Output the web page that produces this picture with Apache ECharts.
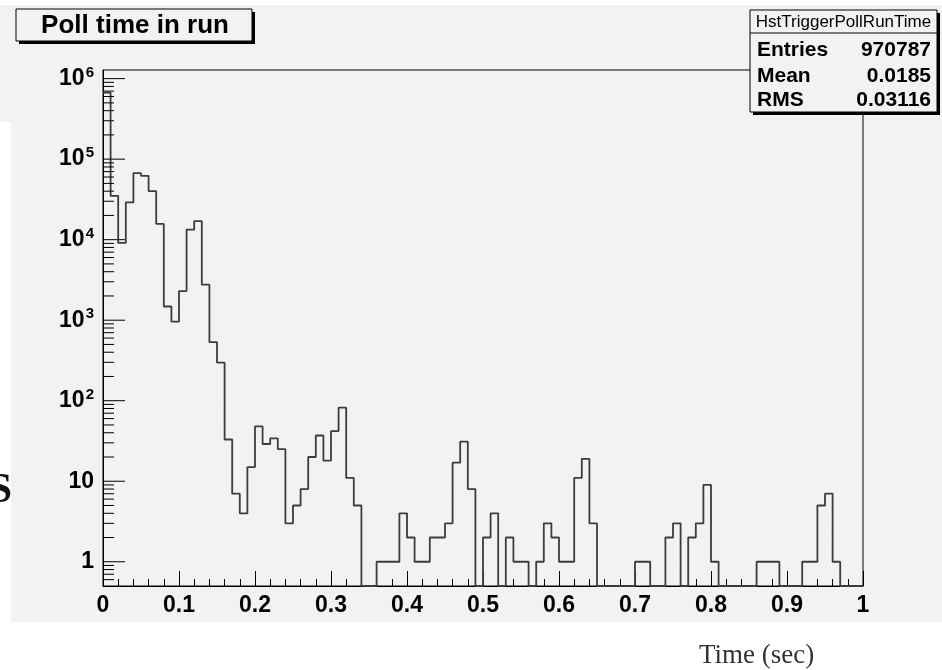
<!DOCTYPE html>
<html>
<head>
<meta charset="utf-8">
<script src="https://cdn.jsdelivr.net/npm/echarts@6/dist/echarts.min.js"></script>
<style>
html, body { margin: 0; padding: 0; background: #fff; }
#main { width: 942px; height: 670px; }
</style>
</head>
<body>
<div id="main"></div>
<script>
// histogram: 100 bins of 0.01 sec from 0 to 1
var binWidth = 0.01;
var binCounts = [
  672000, 35000, 9100, 29000, 67000, 62000, 40000, 15700, 1480, 960,
  2300, 13300, 17000, 2760, 535, 297, 33, 7, 4, 15,
  48, 29, 34, 25, 3, 5, 8, 20, 37, 18,
  42, 82, 11, 5, 0, 0, 1, 1, 1, 4,
  2, 1, 1, 2, 2, 3, 17, 31, 8, 0,
  2, 4, 0, 2, 1, 1, 0, 1, 3, 2,
  1, 1, 11, 19, 3, 0, 0, 0, 0, 0,
  1, 1, 0, 0, 2, 3, 0, 2, 3, 9,
  1, 0, 0, 0, 0, 0, 1, 1, 1, 0,
  0, 0, 1, 1, 5, 7, 1, 0, 0, 0
];
var xMin = 0, xMax = 1;
var yMin = 0.5, yMax = 1.28e6;
var titleText = 'Poll time in run';
var histName = 'HstTriggerPollRunTime';
var statNames = ['Entries', 'Mean', 'RMS'];
var statValues = ['970787', '0.0185', '0.03116'];
var xTitle = 'Time (sec)';

// step outline: left edge of each bin, empty bins sit on the axis floor
var steps = [];
for (var i = 0; i < binCounts.length; i++) {
  steps.push([+(i * binWidth).toFixed(2), binCounts[i] > 0 ? binCounts[i] : yMin]);
}
steps.push([xMax, steps[steps.length - 1][1]]);

// ROOT style log ticks: long at decades, short at 2..9
var yTicks = [];
for (var e = -1; e <= 6; e++) {
  for (var m = 1; m <= 9; m++) {
    var v = m * Math.pow(10, e);
    if (v <= yMin || v >= yMax) continue;
    yTicks.push([xMin, v, m === 1 ? 22 : 11]);
  }
}

var font = 'Liberation Sans, Arial, Helvetica, sans-serif';
var serif = 'Liberation Serif, Times New Roman, serif';
var grey = '#f2f2f2';

var statRows = [];
for (var k = 0; k < statNames.length; k++) {
  var yy = [50, 76, 100][k];
  statRows.push({ type: 'text', x: 757, y: yy, z: 52,
    style: { text: statNames[k], fill: '#000', font: 'bold 21px ' + font, textVerticalAlign: 'middle' } });
  statRows.push({ type: 'text', x: 931, y: yy, z: 52,
    style: { text: statValues[k], fill: '#000', font: 'bold 21px ' + font, textAlign: 'right', textVerticalAlign: 'middle' } });
}

var chart = echarts.init(document.getElementById('main'));
chart.setOption({
  backgroundColor: '#fff',
  animation: false,
  grid: {
    left: 103, right: 79, top: 70, bottom: 84,
    show: true, backgroundColor: grey, borderColor: '#000', borderWidth: 1
  },
  xAxis: {
    type: 'value', min: xMin, max: xMax, interval: 0.1,
    axisLine: { lineStyle: { color: '#000', width: 1 } },
    axisTick: { inside: true, length: 15, lineStyle: { color: '#000' } },
    minorTick: { show: true, splitNumber: 5, length: 7, lineStyle: { color: '#000' } },
    splitLine: { show: false },
    axisLabel: {
      margin: 8, color: '#000', fontFamily: font, fontWeight: 'bold', fontSize: 23,
      formatter: function (v) {
        if (v === 0) return '0';
        if (v === 1) return '1';
        return v.toFixed(1);
      }
    }
  },
  yAxis: {
    type: 'log', logBase: 10, min: yMin, max: yMax,
    axisLine: { lineStyle: { color: '#000', width: 1 } },
    axisTick: { show: false },
    splitLine: { show: false },
    axisLabel: {
      margin: 9, color: '#000', fontFamily: font, fontWeight: 'bold', fontSize: 23,
      showMinLabel: false, showMaxLabel: false,
      formatter: function (v) {
        var lg = Math.log10(v);
        var e = Math.round(lg);
        if (Math.abs(lg - e) > 1e-6) return '';
        if (e === 0) return '1';
        if (e === 1) return '10';
        return '10{sup|' + e + '}';
      },
      rich: {
        sup: { fontFamily: font, fontWeight: 'bold', fontSize: 15, verticalAlign: 'top', padding: [0, 0, 12, 1] }
      }
    }
  },
  series: [
    {
      type: 'line',
      step: 'end',
      data: steps,
      showSymbol: false,
      symbol: 'none',
      lineStyle: { color: '#3c3c3c', width: 1.8 },
      z: 3
    },
    {
      type: 'custom',
      data: yTicks,
      encode: { x: 0, y: 1 },
      silent: true,
      renderItem: function (params, api) {
        var p = api.coord([api.value(0), api.value(1)]);
        return {
          type: 'line',
          shape: { x1: p[0], y1: p[1], x2: p[0] + api.value(2), y2: p[1] },
          style: { stroke: '#000', lineWidth: 1 }
        };
      },
      z: 4
    }
  ],
  graphic: [
    { type: 'rect', shape: { x: 11, y: 5, width: 931, height: 617 }, style: { fill: grey }, z: -100, silent: true },
    { type: 'rect', shape: { x: 0, y: 5, width: 12, height: 117 }, style: { fill: grey }, z: -100, silent: true },
    // title box with shadow
    { type: 'rect', shape: { x: 19, y: 12, width: 236, height: 32 }, style: { fill: '#000' }, z: 50 },
    { type: 'rect', shape: { x: 16, y: 9, width: 236, height: 32 }, style: { fill: grey, stroke: '#000', lineWidth: 1 }, z: 51 },
    {
      type: 'text', x: 135, y: 26, z: 52,
      style: { text: titleText, fill: '#000', font: 'bold 26px ' + font, textAlign: 'center', textVerticalAlign: 'middle' }
    },
    // stats box with shadow
    { type: 'rect', shape: { x: 753, y: 13, width: 187, height: 102 }, style: { fill: '#000' }, z: 50 },
    { type: 'rect', shape: { x: 750, y: 10, width: 187, height: 102 }, style: { fill: grey, stroke: '#000', lineWidth: 1 }, z: 51 },
    { type: 'line', shape: { x1: 750, y1: 33, x2: 937, y2: 33 }, style: { stroke: '#000', lineWidth: 1 }, z: 52 },
    {
      type: 'text', x: 843.5, y: 22, z: 52,
      style: { text: histName, fill: '#000', font: '17px ' + font, textAlign: 'center', textVerticalAlign: 'middle' }
    }
  ].concat(statRows).concat([
    // clipped axis title piece on the left and the x title under the pad
    {
      type: 'text', x: 12, y: 491, z: 52,
      style: { text: 'S', fill: '#111', font: 'bold 42px ' + serif, textAlign: 'right', textVerticalAlign: 'middle' }
    },
    {
      type: 'text', x: 699, y: 656, z: 52,
      style: { text: xTitle, fill: '#333', font: '27px ' + serif, textVerticalAlign: 'middle' }
    }
  ])
});
</script>
</body>
</html>
